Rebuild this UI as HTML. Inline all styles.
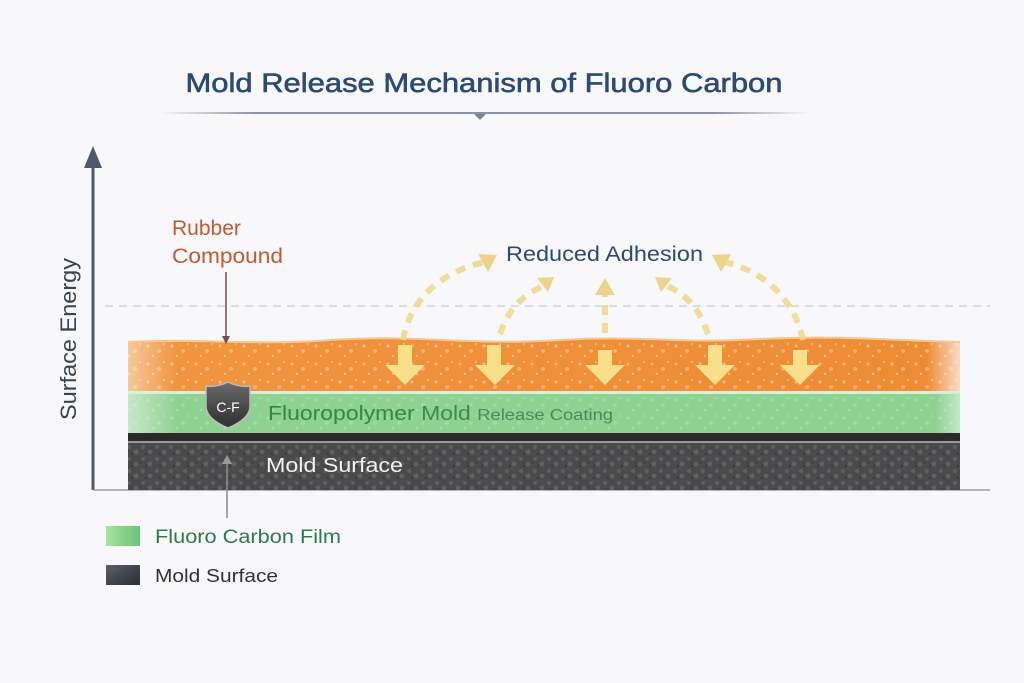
<!DOCTYPE html>
<html><head><meta charset="utf-8"><style>
html,body{margin:0;padding:0;background:#f8f8fa;}
svg{display:block;font-family:"Liberation Sans","DejaVu Sans",sans-serif;}
</style></head><body>
<svg width="1024" height="683" viewBox="0 0 1024 683" xmlns="http://www.w3.org/2000/svg">
<defs>
<linearGradient id="tl" x1="0" x2="1"><stop offset="0" stop-color="#8a93a3" stop-opacity="0"/><stop offset="0.15" stop-color="#8a93a3"/><stop offset="0.85" stop-color="#8a93a3"/><stop offset="1" stop-color="#8a93a3" stop-opacity="0"/></linearGradient>
<linearGradient id="og" x1="0" x2="1"><stop offset="0" stop-color="#f7c89a"/><stop offset="0.06" stop-color="#f0943e"/><stop offset="0.96" stop-color="#ee8c34"/><stop offset="1" stop-color="#f7dcc4"/></linearGradient>
<linearGradient id="gg" x1="0" x2="1"><stop offset="0" stop-color="#c8e8c8"/><stop offset="0.06" stop-color="#8fd191"/><stop offset="0.97" stop-color="#8fd191"/><stop offset="1" stop-color="#c4e8c6"/></linearGradient>
<linearGradient id="sh" x1="0" y1="0" x2="0" y2="1"><stop offset="0" stop-color="#6a6a6a"/><stop offset="1" stop-color="#2e2e2e"/></linearGradient>
<linearGradient id="lg" x1="0" x2="1"><stop offset="0" stop-color="#a8e2a0"/><stop offset="1" stop-color="#6cc27a"/></linearGradient>
<linearGradient id="ld" x1="0" y1="0" x2="1" y2="1"><stop offset="0" stop-color="#5a5e68"/><stop offset="1" stop-color="#2a2d36"/></linearGradient>
<pattern id="spk" width="24" height="18" patternUnits="userSpaceOnUse">
<circle cx="4" cy="4" r="1.6" fill="#fff" opacity="0.35"/><circle cx="15" cy="9" r="2" fill="#fff" opacity="0.3"/><circle cx="9" cy="14" r="1.2" fill="#fff" opacity="0.4"/><circle cx="20" cy="2" r="1" fill="#fff" opacity="0.4"/>
</pattern>
<pattern id="gr" width="14" height="12" patternUnits="userSpaceOnUse">
<circle cx="3" cy="3" r="2" fill="#6a6a6a" opacity="0.6"/><circle cx="10" cy="8" r="2.4" fill="#777" opacity="0.5"/><circle cx="6" cy="10" r="1.2" fill="#3a3a3a"/>
</pattern>
</defs>

<!-- title -->
<text x="484" y="92" text-anchor="middle" font-size="27" fill="#2b4b74" stroke="#2b4b74" stroke-width="0.6" textLength="597" lengthAdjust="spacingAndGlyphs">Mold Release Mechanism of Fluoro Carbon</text>
<rect x="160" y="112" width="650" height="2" fill="url(#tl)"/>
<polygon points="474,114 486,114 480,120" fill="#7b8494"/>

<!-- axes -->
<line x1="93" y1="160" x2="93" y2="490" stroke="#4e5868" stroke-width="3"/>
<polygon points="84,168 102,168 93,146" fill="#4e5868"/>
<line x1="93" y1="490" x2="990" y2="490" stroke="#9aa0aa" stroke-width="1.5"/>
<text transform="translate(76,339) rotate(-90)" text-anchor="middle" font-size="22" fill="#3a4352" textLength="162" lengthAdjust="spacingAndGlyphs">Surface Energy</text>
<line x1="105" y1="306" x2="990" y2="306" stroke="#cfcfd4" stroke-width="1.2" stroke-dasharray="8,6"/>

<!-- layers -->
<rect x="128" y="441" width="832" height="49" fill="#4a4a4c"/>
<rect x="128" y="441" width="832" height="49" fill="url(#gr)"/>
<rect x="128" y="441" width="832" height="2" fill="#9a9a9a"/>
<rect x="128" y="433" width="832" height="8" fill="#2a2a2a"/>
<rect x="128" y="392" width="832" height="41" fill="url(#gg)"/>
<rect x="128" y="392" width="832" height="41" fill="url(#spk)" opacity="0.6"/>
<rect x="128" y="391" width="832" height="3" fill="#d8f0d8"/>
<path d="M128,342 C200,338 260,346 330,340 C420,334 470,346 560,340 C640,335 680,344 760,339 C840,335 900,341 960,342 L960,391 L128,391 Z" fill="url(#og)"/>
<path d="M128,342 C200,338 260,346 330,340 C420,334 470,346 560,340 C640,335 680,344 760,339 C840,335 900,341 960,342 L960,391 L128,391 Z" fill="url(#spk)"/>
<path d="M128,342 C200,338 260,346 330,340 C420,334 470,346 560,340 C640,335 680,344 760,339 C840,335 900,341 960,342" fill="none" stroke="#fbc590" stroke-width="2"/>

<!-- down arrows -->
<g fill="#f8e08a">
<polygon points="398,345 412,345 412,365 425,365 405,385 385,365 398,365"/>
<polygon points="487,345 501,345 501,365 515,365 495,385 475,365 487,365"/>
<polygon points="598,350 612,350 612,365 625,365 605,385 585,365 598,365"/>
<polygon points="708,345 722,345 722,365 735,365 715,385 695,365 708,365"/>
<polygon points="793,350 807,350 807,365 820,365 800,385 780,365 793,365"/>
</g>

<!-- dashed arcs -->
<g fill="none" stroke="#f1d890" stroke-width="6" stroke-dasharray="10,8" opacity="0.9">
<path d="M403,340 C410,300 440,272 485,262"/>
<path d="M500,334 C508,310 522,295 545,285"/>
<path d="M605,333 L605,290"/>
<path d="M708,334 C700,310 688,295 665,285"/>
<path d="M803,340 C795,300 765,272 725,262"/>
</g>
<g fill="#eed38a">
<polygon points="497,255 478,254 488,272"/>
<polygon points="554,277 537,278 548,292"/>
<polygon points="605,278 595,295 615,295"/>
<polygon points="655,277 672,278 661,292"/>
<polygon points="712,255 731,254 721,272"/>
</g>
<text x="506" y="261" font-size="21" fill="#2b4b74" textLength="197" lengthAdjust="spacingAndGlyphs">Reduced Adhesion</text>

<!-- rubber compound -->
<text x="172" y="235" font-size="21" fill="#c05a30">Rubber</text>
<text x="172" y="263" font-size="21" fill="#c05a30" textLength="111" lengthAdjust="spacingAndGlyphs">Compound</text>
<line x1="226" y1="272" x2="226" y2="338" stroke="#6e5050" stroke-width="1.5"/>
<polygon points="222,336 230,336 226,344" fill="#6e5050"/>

<!-- shield -->
<path d="M228,382 C236,386 243,387 250,386 L250,406 C250,416 240,423 228,428 C216,423 206,416 206,406 L206,386 C213,387 220,386 228,382 Z" fill="url(#sh)" stroke="#bbb" stroke-width="1.5"/>
<text x="228" y="412" text-anchor="middle" font-size="14" fill="#fff">C-F</text>

<text x="268" y="420" font-size="20" fill="#2f8a44" textLength="345" lengthAdjust="spacingAndGlyphs">Fluoropolymer <tspan fill="#3d8a50">Mold</tspan> <tspan font-size="16" fill="#4a8a58">Release Coating</tspan></text>
<text x="266" y="472" font-size="20" fill="#f2f2f2" textLength="137" lengthAdjust="spacingAndGlyphs">Mold Surface</text>

<line x1="227" y1="518" x2="227" y2="462" stroke="#8a8a8a" stroke-width="1.5"/>
<polygon points="222,464 232,464 227,455" fill="#9a9a9a"/>

<!-- legend -->
<rect x="106" y="526" width="34" height="20" fill="url(#lg)"/>
<text x="155" y="543" font-size="19" fill="#2e7a50" textLength="186" lengthAdjust="spacingAndGlyphs">Fluoro Carbon Film</text>
<rect x="106" y="565" width="34" height="20" fill="url(#ld)"/>
<text x="155" y="582" font-size="18" fill="#2e323c" textLength="123" lengthAdjust="spacingAndGlyphs">Mold Surface</text>
</svg>
</body></html>
